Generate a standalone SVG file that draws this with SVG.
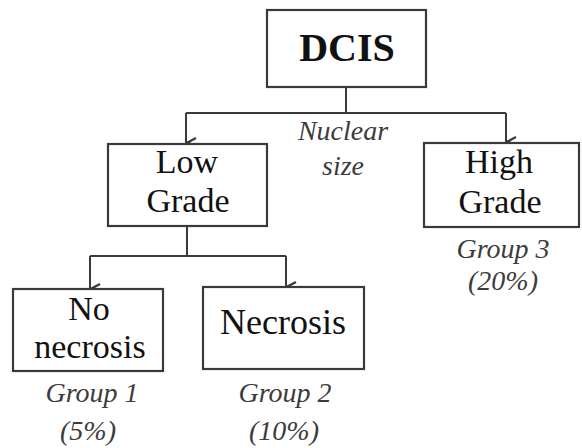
<svg xmlns="http://www.w3.org/2000/svg" width="582" height="448" viewBox="0 0 582 448">
<style>
.box{fill:#fff;stroke:#3a3a3a;stroke-width:2.2}
.ln{fill:none;stroke:#3a3a3a;stroke-width:2}
.t{fill:#111;text-anchor:middle}
.n{font-size:34px}
.i{font-style:italic;fill:#3c3c3c;text-anchor:middle;font-size:28px}
</style>
<defs>
<marker id="ah" viewBox="0 0 12 12" refX="6" refY="11.5" markerWidth="12" markerHeight="12" markerUnits="userSpaceOnUse" orient="auto-start-reverse">
<path d="M1,1.5 L6,11 L11,1.5" fill="none" stroke="#3a3a3a" stroke-width="2.2"/>
<path d="M3.5,5.5 L6,11 L8.5,5.5 L6,7.5 Z" fill="#3a3a3a"/>
</marker>
</defs>
<rect width="582" height="448" fill="#fff"/>
<g id="connectors">
<path class="ln" d="M346,87 V113 M186,113 H506"/>
<path class="ln" d="M186,113 V143" marker-end="url(#ah)"/>
<path class="ln" d="M506,113 V142" marker-end="url(#ah)"/>
<path class="ln" d="M187,226 V256 M90,256 H286"/>
<path class="ln" d="M90,256 V289" marker-end="url(#ah)"/>
<path class="ln" d="M286,256 V287" marker-end="url(#ah)"/>
</g>
<g id="dcis">
<rect class="box" x="267" y="10" width="159" height="77"/>
<text class="t" x="347" y="61" font-family="Liberation Serif, serif" font-size="40" font-weight="bold">DCIS</text>
</g>
<g id="nuclear-size">
<text class="i" x="343" y="140" font-family="Liberation Serif, serif">Nuclear</text>
<text class="i" x="343" y="175" font-family="Liberation Serif, serif">size</text>
</g>
<g id="low-grade">
<rect class="box" x="108" y="144" width="159" height="82"/>
<text class="t n" x="187" y="173" font-family="Liberation Serif, serif">Low</text>
<text class="t n" x="188" y="212" font-family="Liberation Serif, serif">Grade</text>
</g>
<g id="high-grade">
<rect class="box" x="424" y="143" width="155" height="84"/>
<text class="t n" x="499" y="173" font-family="Liberation Serif, serif">High</text>
<text class="t n" x="500" y="213" font-family="Liberation Serif, serif">Grade</text>
<text class="i" x="503" y="258" font-family="Liberation Serif, serif">Group 3</text>
<text class="i" x="503" y="290" font-family="Liberation Serif, serif">(20%)</text>
</g>
<g id="no-necrosis">
<rect class="box" x="13" y="289" width="150" height="82"/>
<text class="t n" x="89" y="320" font-family="Liberation Serif, serif">No</text>
<text class="t n" x="90" y="358" font-family="Liberation Serif, serif">necrosis</text>
<text class="i" x="92" y="402" font-family="Liberation Serif, serif">Group 1</text>
<text class="i" x="88" y="440" font-family="Liberation Serif, serif">(5%)</text>
</g>
<g id="necrosis">
<rect class="box" x="203" y="287" width="161" height="82"/>
<text class="t" x="283" y="334" font-size="36" font-family="Liberation Serif, serif">Necrosis</text>
<text class="i" x="285" y="402" font-family="Liberation Serif, serif">Group 2</text>
<text class="i" x="284" y="440" font-family="Liberation Serif, serif">(10%)</text>
</g>
</svg>
